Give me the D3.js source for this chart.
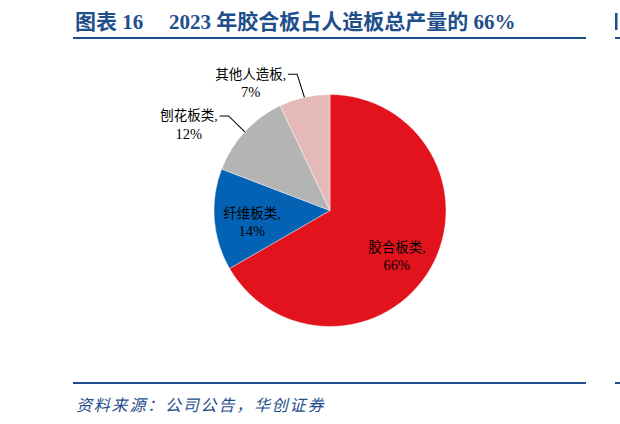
<!DOCTYPE html>
<html>
<head>
<meta charset="utf-8">
<script src="https://cdn.jsdelivr.net/npm/d3@7"></script>
<style>
    html, body { margin: 0; padding: 0; background: #fff; }
    svg { display: block; }
</style>
</head>
<body>
<div id="chart"></div>
<script>
(function() {
    'use strict';

    // chart data
    var categories = ['胶合板类', '纤维板类', '刨花板类', '其他人造板'];
    var shares = [66, 14, 12, 7];
    var shareLabels = ['66%', '14%', '12%', '7%'];
    var colors = ['#e3131d', '#0462b4', '#b4b4b4', '#e6b9b9'];

    var titleText = ['图表 16', '2023 年胶合板占人造板总产量的 66%'];
    var sourceText = '资料来源：公司公告，华创证券';

    var width = 620, height = 424;
    var cx = 330, cy = 210.5, radius = 116;
    var blue = '#1f4e8c';
    var serif = '"Liberation Serif", "Times New Roman", "Noto Sans CJK SC", serif';
    var cjk = '"Liberation Serif", "Noto Sans CJK SC", sans-serif';

    // label placement: radius and angular nudge per slice, outside labels get a leader
    var labelRadius = [81, 79, 165, 150];
    var labelNudge = [4.3, -4, -11.5, -19.2];
    var outside = [false, false, true, true];

    var svg = d3.select('#chart').append('svg')
        .attr('width', width)
        .attr('height', height);

    // header
    svg.append('text')
        .attr('x', 75).attr('y', 29)
        .attr('fill', blue)
        .style('font-family', cjk)
        .style('font-size', '21px')
        .style('font-weight', 'bold')
        .text(titleText[0]);
    svg.append('text')
        .attr('x', 169).attr('y', 29)
        .attr('fill', blue)
        .style('font-family', cjk)
        .style('font-size', '21px')
        .style('font-weight', 'bold')
        .text(titleText[1]);
    svg.append('line')
        .attr('x1', 73).attr('x2', 586)
        .attr('y1', 38).attr('y2', 38)
        .attr('stroke', blue).attr('stroke-width', 2);

    // edge of the neighbouring chart, cut off at the right border
    svg.append('rect')
        .attr('x', 615).attr('y', 13)
        .attr('width', 2.5).attr('height', 17)
        .attr('fill', blue);
    svg.append('line')
        .attr('x1', 615).attr('x2', 620)
        .attr('y1', 38).attr('y2', 38)
        .attr('stroke', blue).attr('stroke-width', 2);

    // pie
    var pie = d3.pie().sort(null).value(function(d) { return d; });
    var arcs = pie(shares);
    var arc = d3.arc().innerRadius(0).outerRadius(radius);

    var g = svg.append('g')
        .attr('transform', 'translate(' + cx + ',' + cy + ')');

    g.selectAll('path.slice')
        .data(arcs)
        .enter()
        .append('path')
        .attr('class', 'slice')
        .attr('d', arc)
        .attr('fill', function(d, i) { return colors[i]; })
        .attr('stroke', '#ffffff')
        .attr('stroke-width', 0.4);

    var polar = function(angle, r) {
        return [Math.sin(angle) * r, -Math.cos(angle) * r];
    };
    var midAngle = function(d) { return (d.startAngle + d.endAngle) / 2; };

    var labels = g.selectAll('g.label')
        .data(arcs)
        .enter()
        .append('g')
        .attr('class', 'label')
        .attr('transform', function(d, i) {
            var p = polar(midAngle(d) + labelNudge[i] * Math.PI / 180, labelRadius[i]);
            return 'translate(' + p[0] + ',' + p[1] + ')';
        });

    labels.append('text')
        .attr('class', 'name')
        .attr('text-anchor', 'middle')
        .attr('y', -4.5)
        .attr('fill', '#000')
        .style('font-family', cjk)
        .style('font-size', '13.5px')
        .text(function(d, i) { return categories[i] + ','; });

    labels.append('text')
        .attr('text-anchor', 'middle')
        .attr('y', 14)
        .attr('fill', '#000')
        .style('font-family', serif)
        .style('font-size', '14.5px')
        .text(function(d, i) { return shareLabels[i]; });

    // leader lines for the labels that sit outside the pie
    labels.each(function(d, i) {
        if (!outside[i]) return;
        var box = d3.select(this).select('text.name').node().getBBox();
        var lp = polar(midAngle(d) + labelNudge[i] * Math.PI / 180, labelRadius[i]);
        var edge = polar(midAngle(d), radius);
        var x0 = lp[0] + box.x + box.width + 2;
        var y0 = lp[1] - 9;
        g.append('polyline')
            .attr('points', [[x0, y0], [x0 + 9, y0], edge].join(' '))
            .attr('fill', 'none')
            .attr('stroke', '#000')
            .attr('stroke-width', 1.1);
    });

    // footer
    svg.append('line')
        .attr('x1', 73).attr('x2', 586)
        .attr('y1', 383).attr('y2', 383)
        .attr('stroke', blue).attr('stroke-width', 2);
    svg.append('line')
        .attr('x1', 615).attr('x2', 620)
        .attr('y1', 383).attr('y2', 383)
        .attr('stroke', blue).attr('stroke-width', 2);
    svg.append('text')
        .attr('x', 76).attr('y', 411)
        .attr('fill', blue)
        .style('font-family', '"Noto Sans CJK SC", sans-serif')
        .style('font-size', '16px')
        .style('font-style', 'italic')
        .style('letter-spacing', '1.8px')
        .text(sourceText);
})();
</script>
</body>
</html>
